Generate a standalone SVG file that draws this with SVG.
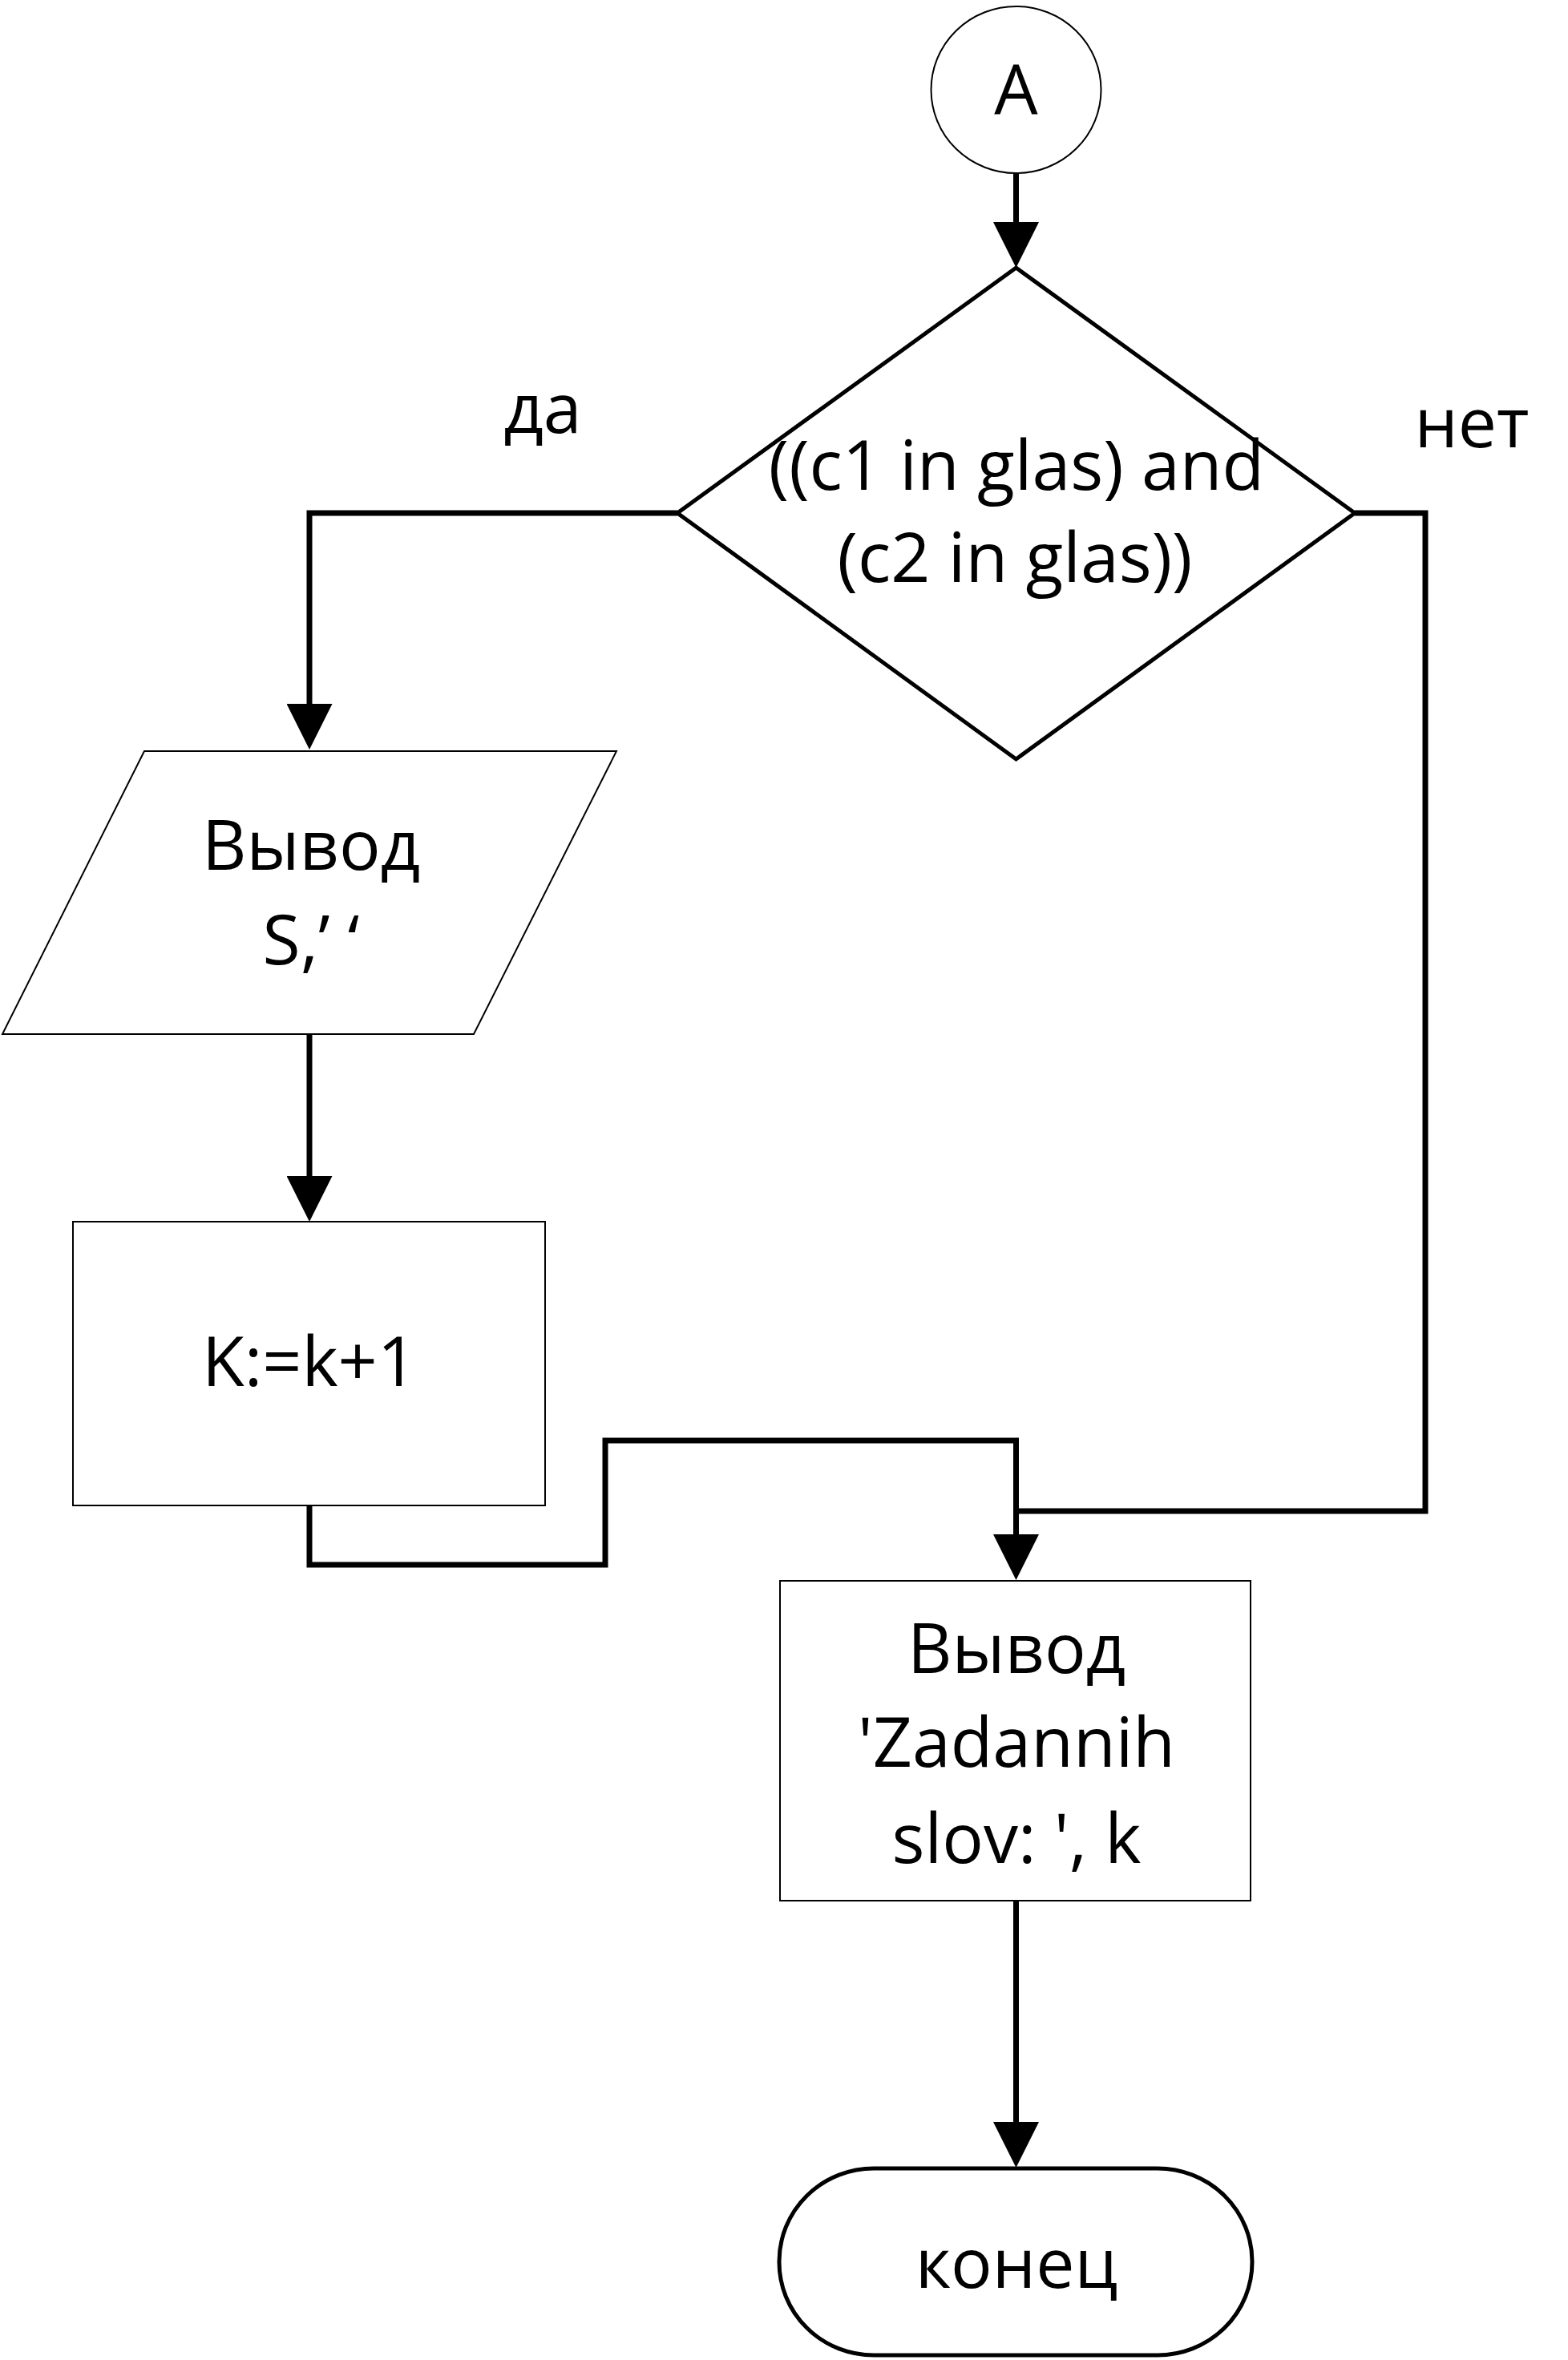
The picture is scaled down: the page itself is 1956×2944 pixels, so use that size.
<svg xmlns="http://www.w3.org/2000/svg" width="1956" height="2944" viewBox="0 0 1956 2944">
<style>
text{font-family:"Open Sans","Liberation Sans",sans-serif;font-size:86px;fill:#000;text-anchor:middle}
.thin{fill:#fff;stroke:#000;stroke-width:2}
.thick{fill:#fff;stroke:#000;stroke-width:5;stroke-linejoin:miter}
.conn{fill:none;stroke:#000;stroke-width:7;stroke-linejoin:miter}
</style>
<defs>
<marker id="arr" viewBox="0 0 57 57" refX="0" refY="28.5" markerWidth="57" markerHeight="57" markerUnits="userSpaceOnUse" orient="auto">
<path d="M0,0 L57,28.5 L0,57 z" fill="#000"/>
</marker>
</defs>
<rect width="1956" height="2944" fill="#fff"/>
<g id="connectors">
<path class="conn" d="M1267.5,216 V277" marker-end="url(#arr)"/>
<path class="conn" d="M845,640 H386 V878" marker-end="url(#arr)"/>
<path class="conn" d="M386,1290 V1467" marker-end="url(#arr)"/>
<path class="conn" d="M386,1878 V1952 H755 V1797 H1267.5 V1914" marker-end="url(#arr)"/>
<path class="conn" d="M1690,640 H1778 V1885 H1267.5"/>
<path class="conn" d="M1267.5,2371 V2647" marker-end="url(#arr)"/>
<text x="677" y="540">да</text>
<text x="1836" y="558">нет</text>
</g>
<g id="connector-A">
<ellipse class="thin" cx="1267.5" cy="112" rx="106" ry="104"/>
<text x="1267.5" y="143">A</text>
</g>
<g id="decision">
<polygon class="thick" points="1267.5,334 1690,640 1267.5,947 845,640"/>
<text x="1268" y="611">((c1 in glas) and</text>
<text x="1266" y="726">(c2 in glas))</text>
</g>
<g id="output-s">
<polygon class="thin" points="180,937 769,937 591,1290 3,1290"/>
<text x="388" y="1085">Вывод</text>
<text x="388" y="1203">S,’ ‘</text>
</g>
<g id="process-k">
<rect class="thin" x="91" y="1524" width="589" height="354"/>
<text x="386" y="1729">K:=k+1</text>
</g>
<g id="output-k">
<rect class="thin" x="973" y="1972" width="587" height="399"/>
<text x="1268" y="2087">Вывод</text>
<text x="1268" y="2204">'Zadannih</text>
<text x="1268" y="2324">slov: ', k</text>
</g>
<g id="end">
<rect x="972" y="2705" width="590" height="233" rx="118" ry="116" fill="#fff" stroke="#000" stroke-width="5"/>
<text x="1268" y="2854">конец</text>
</g>
</svg>
